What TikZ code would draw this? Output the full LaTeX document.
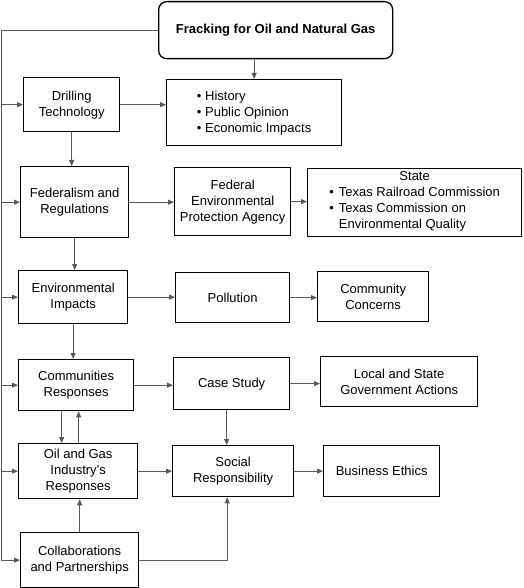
\documentclass[tikz,border=0pt]{standalone}
\usepackage{fontspec}
\setmainfont{Liberation Sans}
\usetikzlibrary{arrows.meta}
\begin{document}
\begin{tikzpicture}[x=1pt,y=1pt,
  box/.style={draw=black, line width=1.3pt, align=center, inner sep=0pt, anchor=north west,
    font=\fontsize{13pt}{16pt}\selectfont},
  conn/.style={draw=black!65, line width=1pt},
  arr/.style={conn, -{Triangle[length=6pt,width=5pt]}}]
\useasboundingbox (0,0) rectangle (523,-588);
\node[box, rounded corners=8pt, minimum width=234pt, minimum height=57pt,
  font=\fontsize{13pt}{16pt}\selectfont\bfseries] (title) at (158,-1) {Fracking for Oil and Natural Gas};
\node[box, minimum width=96pt, minimum height=54pt] (drill) at (23,-77) {Drilling\\Technology};
\node[box, minimum width=175pt, minimum height=66pt, align=left] (hist) at (166,-79) {• History\\• Public Opinion\\• Economic Impacts};
\node[box, minimum width=108pt, minimum height=71pt] (fed) at (20,-166) {Federalism and\\Regulations};
\node[box, minimum width=116pt, minimum height=68pt] (epa) at (174,-167) {Federal\\Environmental\\Protection Agency};
\node[box, minimum width=214pt, minimum height=68pt] (state) at (307,-168) {State\\\begin{tabular}[t]{@{}l@{\hspace{5pt}}l@{}}•&Texas Railroad Commission\\•&Texas Commission on\\&Environmental Quality\end{tabular}};
\node[box, minimum width=109pt, minimum height=53pt] (env) at (18,-270) {Environmental\\Impacts};
\node[box, minimum width=114pt, minimum height=50pt] (poll) at (175,-272) {Pollution};
\node[box, minimum width=111pt, minimum height=50pt] (conc) at (317,-271) {Community\\Concerns};
\node[box, minimum width=115pt, minimum height=51pt] (comm) at (18,-359) {Communities\\Responses};
\node[box, minimum width=116pt, minimum height=52pt] (case) at (173,-357) {Case Study};
\node[box, minimum width=157pt, minimum height=50pt] (local) at (320,-356) {Local and State\\Government Actions};
\node[box, minimum width=119pt, minimum height=55pt] (oil) at (18,-443) {Oil and Gas\\Industry’s\\Responses};
\node[box, minimum width=121pt, minimum height=51pt] (soc) at (172,-445) {Social\\Responsibility};
\node[box, minimum width=116pt, minimum height=51pt] (eth) at (323,-445) {Business Ethics};
\node[box, minimum width=118pt, minimum height=55pt] (coll) at (20,-532) {Collaborations\\and Partnerships};
\coordinate (L) at (1.5,-29);
% left trunk
\draw[arr] (title.west) -- (title.west -| L) -- (coll.west -| L) -- (coll.west);
\foreach \n in {drill,fed,env,comm,oil}
  \draw[arr] (\n.west -| L) -- (\n.west);
% title to list
\draw[arr] (title.south -| hist.north) -- (hist.north);
% horizontals
\draw[arr] (drill.east) -- (drill.east -| hist.west);
\draw[arr] (fed.east) -- (fed.east -| epa.west);
\draw[arr] (epa.east) -- (epa.east -| state.west);
\draw[arr] (env.east) -- (env.east -| poll.west);
\draw[arr] (poll.east) -- (poll.east -| conc.west);
\draw[arr] (comm.east) -- (comm.east -| case.west);
\draw[arr] (case.east) -- (case.east -| local.west);
\draw[arr] (oil.east) -- (oil.east -| soc.west);
\draw[arr] (soc.east) -- (soc.east -| eth.west);
% verticals
\draw[arr] (drill.south) -- (drill.south |- fed.north);
\draw[arr] (fed.south) -- (fed.south |- env.north);
\draw[arr] (env.south) -- (env.south |- comm.north);
\draw[arr] ([xshift=-14.5pt]comm.south) -- ([xshift=-14.5pt]comm.south |- oil.north);
\draw[arr] ([xshift=2.5pt]comm.south |- oil.north) -- ([xshift=2.5pt]comm.south);
\draw[arr] (coll.north) -- (coll.north |- oil.south);
\draw[arr] ([xshift=-5pt]case.south) -- ([xshift=-5pt]case.south |- soc.north);
\draw[arr] (coll.east) -| ([xshift=-6pt]soc.south);
\end{tikzpicture}
\end{document}
